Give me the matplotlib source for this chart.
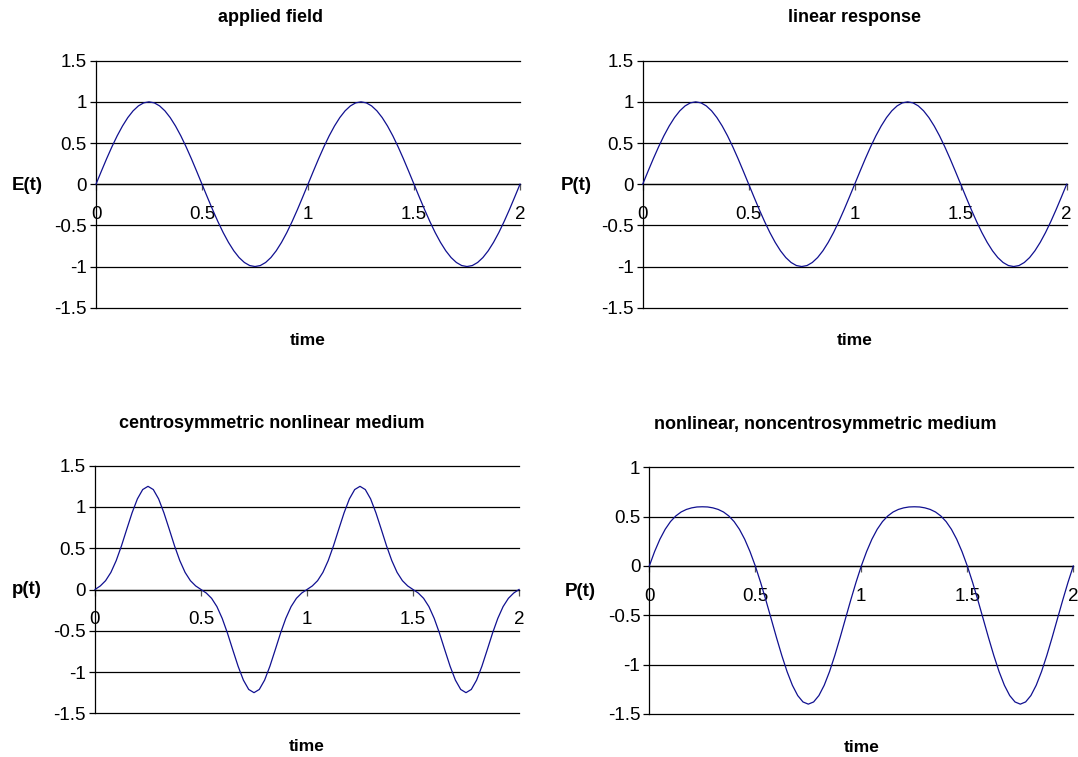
import matplotlib
matplotlib.use("Agg")
import matplotlib.pyplot as plt

plt.rcParams['font.family'] = ['Liberation Sans', 'DejaVu Sans']

# time axis (0 .. 2, step 0.025)
time = [0.0, 0.025, 0.05, 0.075, 0.1, 0.125, 0.15, 0.175, 0.2, 0.225,
        0.25, 0.275, 0.3, 0.325, 0.35, 0.375, 0.4, 0.425, 0.45, 0.475,
        0.5, 0.525, 0.55, 0.575, 0.6, 0.625, 0.65, 0.675, 0.7, 0.725,
        0.75, 0.775, 0.8, 0.825, 0.85, 0.875, 0.9, 0.925, 0.95, 0.975,
        1.0, 1.025, 1.05, 1.075, 1.1, 1.125, 1.15, 1.175, 1.2, 1.225,
        1.25, 1.275, 1.3, 1.325, 1.35, 1.375, 1.4, 1.425, 1.45, 1.475,
        1.5, 1.525, 1.55, 1.575, 1.6, 1.625, 1.65, 1.675, 1.7, 1.725,
        1.75, 1.775, 1.8, 1.825, 1.85, 1.875, 1.9, 1.925, 1.95, 1.975,
        2.0]

# applied field E(t)
field = [0, 0.156, 0.309, 0.454, 0.588, 0.707, 0.809, 0.891, 0.951, 0.988,
         1, 0.988, 0.951, 0.891, 0.809, 0.707, 0.588, 0.454, 0.309, 0.156,
         0, -0.156, -0.309, -0.454, -0.588, -0.707, -0.809, -0.891, -0.951, -0.988,
         -1, -0.988, -0.951, -0.891, -0.809, -0.707, -0.588, -0.454, -0.309, -0.156,
         0, 0.156, 0.309, 0.454, 0.588, 0.707, 0.809, 0.891, 0.951, 0.988,
         1, 0.988, 0.951, 0.891, 0.809, 0.707, 0.588, 0.454, 0.309, 0.156,
         0, -0.156, -0.309, -0.454, -0.588, -0.707, -0.809, -0.891, -0.951, -0.988,
         -1, -0.988, -0.951, -0.891, -0.809, -0.707, -0.588, -0.454, -0.309, -0.156,
         0]

# linear response P(t)
linear = [0, 0.156, 0.309, 0.454, 0.588, 0.707, 0.809, 0.891, 0.951, 0.988,
          1, 0.988, 0.951, 0.891, 0.809, 0.707, 0.588, 0.454, 0.309, 0.156,
          0, -0.156, -0.309, -0.454, -0.588, -0.707, -0.809, -0.891, -0.951, -0.988,
          -1, -0.988, -0.951, -0.891, -0.809, -0.707, -0.588, -0.454, -0.309, -0.156,
          0, 0.156, 0.309, 0.454, 0.588, 0.707, 0.809, 0.891, 0.951, 0.988,
          1, 0.988, 0.951, 0.891, 0.809, 0.707, 0.588, 0.454, 0.309, 0.156,
          0, -0.156, -0.309, -0.454, -0.588, -0.707, -0.809, -0.891, -0.951, -0.988,
          -1, -0.988, -0.951, -0.891, -0.809, -0.707, -0.588, -0.454, -0.309, -0.156,
          0]

# centrosymmetric nonlinear medium p(t)
centro = [0, 0.043, 0.107, 0.207, 0.350, 0.530, 0.732, 0.930, 1.098, 1.211,
          1.25, 1.211, 1.098, 0.930, 0.732, 0.530, 0.350, 0.207, 0.107, 0.043,
          0, -0.043, -0.107, -0.207, -0.350, -0.530, -0.732, -0.930, -1.098, -1.211,
          -1.25, -1.211, -1.098, -0.930, -0.732, -0.530, -0.350, -0.207, -0.107, -0.043,
          0, 0.043, 0.107, 0.207, 0.350, 0.530, 0.732, 0.930, 1.098, 1.211,
          1.25, 1.211, 1.098, 0.930, 0.732, 0.530, 0.350, 0.207, 0.107, 0.043,
          0, -0.043, -0.107, -0.207, -0.350, -0.530, -0.732, -0.930, -1.098, -1.211,
          -1.25, -1.211, -1.098, -0.930, -0.732, -0.530, -0.350, -0.207, -0.107, -0.043,
          0]

# nonlinear, noncentrosymmetric medium P(t)
noncentro = [0, 0.146, 0.271, 0.372, 0.450, 0.507, 0.547, 0.573, 0.589, 0.598,
             0.6, 0.598, 0.589, 0.573, 0.547, 0.507, 0.450, 0.372, 0.271, 0.146,
             0, -0.166, -0.347, -0.536, -0.726, -0.907, -1.071, -1.209, -1.313, -1.378,
             -1.4, -1.378, -1.313, -1.209, -1.071, -0.907, -0.726, -0.536, -0.347, -0.166,
             0, 0.146, 0.271, 0.372, 0.450, 0.507, 0.547, 0.573, 0.589, 0.598,
             0.6, 0.598, 0.589, 0.573, 0.547, 0.507, 0.450, 0.372, 0.271, 0.146,
             0, -0.166, -0.347, -0.536, -0.726, -0.907, -1.071, -1.209, -1.313, -1.378,
             -1.4, -1.378, -1.313, -1.209, -1.071, -0.907, -0.726, -0.536, -0.347, -0.166,
             0]

xticks = [0, 0.5, 1, 1.5, 2]
yticks_std = [-1.5, -1, -0.5, 0, 0.5, 1, 1.5]
yticks_nc = [-1.5, -1, -0.5, 0, 0.5, 1]

W, H = 1078, 757
fig = plt.figure(figsize=(W / 100, H / 100), dpi=100)


def box(x0, x1, ytop, ybot):
    return [x0 / W, 1 - ybot / H, (x1 - x0) / W, (ybot - ytop) / H]


def fmt(v):
    return ('%g' % v)


panels = [
    (box(96, 520, 60.7, 307.7), field, yticks_std, 'applied field', 'E(t)', (271, 17), (27, 186)),
    (box(642.7, 1066.7, 60.7, 307.7), linear, yticks_std, 'linear response', 'P(t)', (855, 17), (576, 186)),
    (box(95, 519, 465.7, 713.3), centro, yticks_std, 'centrosymmetric nonlinear medium', 'p(t)', (272, 423), (27, 590)),
    (box(649.3, 1073.3, 467.3, 714), noncentro, yticks_nc,
     'nonlinear, noncentrosymmetric medium', 'P(t)', (825, 424), (580, 592)),
]

for rect, ydata, yt, title, ylab, tpos, ypos in panels:
    ax = fig.add_axes(rect)
    ax.set_xlim(0, 2)
    ax.set_ylim(yt[0], yt[-1])
    for v in yt:
        ax.axhline(v, color='black', lw=0.9, clip_on=False, zorder=1)
    ax.plot(time, ydata, color='#101090', lw=0.9, zorder=3, clip_on=False)

    for s in ['top', 'right']:
        ax.spines[s].set_visible(False)
    ax.spines['left'].set_linewidth(0.9)
    ax.spines['bottom'].set_position(('data', 0))
    ax.spines['bottom'].set_linewidth(0.9)

    ax.set_xticks(xticks)
    ax.set_xticklabels([fmt(v) for v in xticks])
    ax.set_yticks(yt)
    ax.set_yticklabels([fmt(v) for v in yt])
    ax.tick_params(axis='x', direction='out', length=4, width=0.9, color='#555555',
                   pad=11.5, labelsize=13.5)
    ax.tick_params(axis='y', direction='out', length=4.5, width=0.9, pad=2, labelsize=13.5)
    for lab in ax.get_xticklabels():
        lab.set_zorder(2)

    fig.text(tpos[0] / W, 1 - tpos[1] / H, title, ha='center', va='center',
             fontsize=13, fontweight='bold')
    fig.text(ypos[0] / W, 1 - ypos[1] / H, ylab, ha='center', va='center',
             fontsize=13.5, fontweight='bold')
    xc = (rect[0] + rect[2] / 2)
    ybot_px = (1 - rect[1]) * H
    fig.text(xc, 1 - (ybot_px + 33) / H, 'time', ha='center', va='center',
             fontsize=12.5, fontweight='bold')

fig.savefig('out.png', dpi=100)
